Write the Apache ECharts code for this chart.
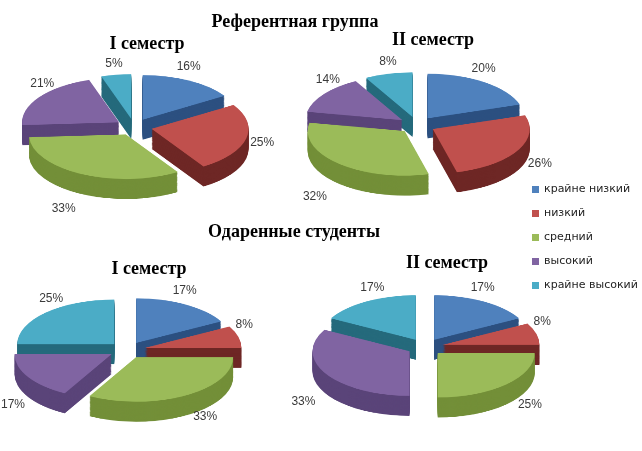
<!DOCTYPE html>
<html><head><meta charset="utf-8">
<script src="https://cdn.jsdelivr.net/npm/echarts@6/dist/echarts.min.js"></script>
<style>
html,body{margin:0;padding:0;background:#fff;overflow:hidden}
#wrap{position:relative;width:642px;height:451px;overflow:hidden}
#a{position:absolute;left:0;top:0;width:642px;transform-origin:0 0}
#b{position:absolute;left:0;top:0;width:642px;height:451px}
</style>
</head><body><div id="wrap"><div id="a"></div><div id="b"></div></div>
<script>
const categories = ['крайне низкий', 'низкий', 'средний', 'высокий', 'крайне высокий'];
const refSem1 = [16, 25, 33, 21, 5];
const refSem2 = [20, 26, 32, 14, 8];
const giftSem1 = [17, 8, 33, 17, 25];
const giftSem2 = [17, 8, 25, 33, 17];
const groupTitles = ['Референтная группа', 'Одаренные студенты'];
const semTitles = ['I семестр', 'II семестр'];

const topColors = ['#4F81BD', '#C0504D', '#9BBB59', '#8064A2', '#4BACC6'];
const sideColors = ['#2C5080', '#6E2725', '#738F38', '#5A4479', '#256A7C'];

// screen-space pie layout (tilted: vertical squash K, thickness DEPTH)
const K = 0.46, DEPTH = 20, R = 97, OFF = 18;
const pies = [
  {data: refSem1, c: [134, 127]},
  {data: refSem2, c: [417, 125]},
  {data: giftSem1, c: [127, 350]},
  {data: giftSem2, c: [425, 347]}
];

// ---- instance A: the squashed pie bodies ----
const H_A = 451 / K;
const aDiv = document.getElementById('a');
aDiv.style.height = H_A + 'px';
aDiv.style.transform = 'scaleY(' + K + ')';
const seriesA = [];
const NL = 20;
pies.forEach((p) => {
  const mk = (cols) => p.data.map((v, k) => ({
    name: categories[k], value: v, selected: true, itemStyle: {color: cols[k]}
  }));
  for (let li = NL; li >= 1; li--) {
    seriesA.push({
      type: 'pie', z: 1, silent: true, animation: false,
      center: [p.c[0], (p.c[1] + DEPTH * li / NL) / K], radius: R,
      selectedMode: 'multiple', selectedOffset: OFF,
      label: {show: false}, labelLine: {show: false},
      emphasis: {disabled: true},
      data: mk(sideColors)
    });
  }
  seriesA.push({
    type: 'pie', z: 3, silent: true, animation: false,
    center: [p.c[0], p.c[1] / K], radius: R,
    selectedMode: 'multiple', selectedOffset: OFF,
    label: {show: false}, labelLine: {show: false},
    emphasis: {disabled: true},
    data: mk(topColors)
  });
});
const chartA = echarts.init(aDiv);
chartA.setOption({animation: false, series: seriesA});

// ---- instance B: titles, legend, labels ----
const seriesB = pies.map((p) => {
  const cx = p.c[0], cy = p.c[1];
  return {
    type: 'pie', animation: false, silent: true,
    center: p.c, radius: R,
    avoidLabelOverlap: false,
    itemStyle: {color: 'rgba(0,0,0,0)'},
    emphasis: {disabled: true},
    label: {show: true, position: 'outside', formatter: '{c}%', color: '#3a3a3a',
      fontSize: 12, fontFamily: 'Liberation Sans'},
    labelLine: {show: false, length: 6, length2: 0},
    labelLayout: function (params) {
      const lr = params.labelRect;
      const ax = params.align === 'right' ? lr.x + lr.width : lr.x;
      const ay = lr.y + lr.height / 2;
      let ux = ax - cx, uy = ay - cy;
      const n = Math.sqrt(ux * ux + uy * uy) || 1;
      ux /= n; uy /= n;
      const rr = R + OFF + 4;
      let x, y;
      if (uy < 0) {
        x = rr * ux * (1 - 0.25 * Math.abs(uy)) + ux * lr.width / 2 + (ux < -0.3 ? 5 : 0);
        y = rr * uy * K * 1.1 + uy * lr.height / 2 + 4 - 14 * Math.abs(ux);
      } else {
        x = rr * ux + ux * lr.width / 2 +
          Math.sign(ux) * 40 * Math.max(0, uy - 0.25) * ux * ux;
        y = rr * uy * K + DEPTH * Math.min(1, uy * 1.6) + uy * lr.height / 2 + (ux < 0 ? 9 : -4);
      }
      x = Math.max(cx + x, lr.width / 2 + 1);
      return {x: x, y: cy + y, align: 'center', verticalAlign: 'middle'};
    },
    data: p.data.map((v, k) => ({name: categories[k], value: v}))
  };
});
const serif = 'Liberation Serif';
const tStyle = (fs) => ({fontFamily: serif, fontWeight: 'bold', fontSize: fs, color: '#000'});
const chartB = echarts.init(document.getElementById('b'));
chartB.setOption({
  animation: false,
  title: [
    {text: groupTitles[0], left: 290, top: 8, textAlign: 'center', textStyle: tStyle(18)},
    {text: semTitles[0], left: 142, top: 30, textAlign: 'center', textStyle: tStyle(18)},
    {text: semTitles[1], left: 428, top: 26, textAlign: 'center', textStyle: tStyle(18)},
    {text: groupTitles[1], left: 289, top: 218, textAlign: 'center', textStyle: tStyle(18)},
    {text: semTitles[0], left: 144, top: 255, textAlign: 'center', textStyle: tStyle(18)},
    {text: semTitles[1], left: 442, top: 249, textAlign: 'center', textStyle: tStyle(18)}
  ],
  legend: {
    orient: 'vertical', left: 532, top: 184, itemGap: 13, padding: 0,
    icon: 'rect', itemWidth: 7, itemHeight: 7,
    selectedMode: false,
    textStyle: {fontFamily: 'DejaVu Sans', fontSize: 11, color: '#222'},
    data: categories.map((n, k) => ({name: n, itemStyle: {color: topColors[k]}}))
  },
  series: seriesB
});
</script></body></html>
